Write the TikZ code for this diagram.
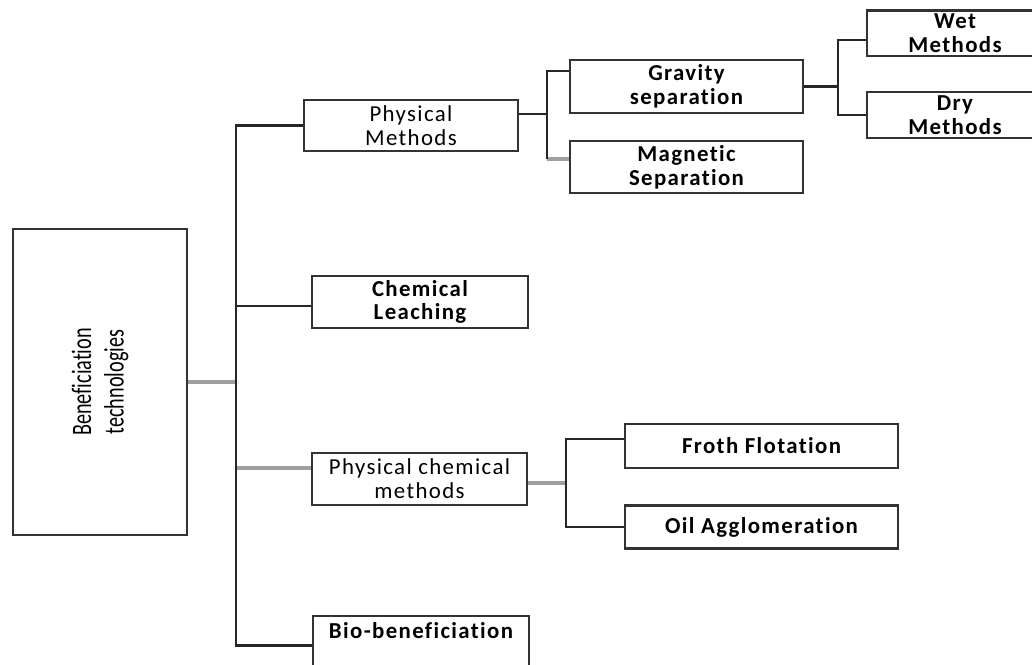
\documentclass[tikz,border=0pt]{standalone}
\usepackage{fontspec}
\setmainfont{Carlito}
\newfontfamily\boxfont[LetterSpace=6,Ligatures=NoCommon]{Carlito}
\newfontfamily\condfont[FakeStretch=0.72,Ligatures=NoCommon]{Carlito}
\usetikzlibrary{positioning,calc}

\begin{document}
\begin{tikzpicture}[x=0.02cm, y=-0.02cm,
    box/.style={draw=black!80, line width=1.3pt, align=center, inner sep=2pt,
        font=\boxfont\fontsize{13}{13.5}\selectfont},
    boldbox/.style={box, font=\boxfont\bfseries\fontsize{13}{13.5}\selectfont},
    link/.style={black!85, line width=1.3pt},
    greylink/.style={gray!75, line width=1.8pt}]
    \useasboundingbox (0,0) rectangle (1032,665);

    % Root
    \node[box, minimum width=3.48cm, minimum height=6.12cm] (root) at (100,382) {};
    \node[rotate=90, align=center, font=\condfont\fontsize{16}{18.5}\selectfont] (rootlabel) at (100,382) {Beneficiation\\technologies};

    % First level
    \node[box, minimum width=4.28cm, minimum height=1.02cm] (phys) at (411,125.5) {Physical\\Methods};
    \node[boldbox, minimum width=4.32cm, minimum height=1.04cm] (chem) at (420,302) {Chemical\\Leaching};
    \node[box, minimum width=4.3cm, minimum height=1.04cm] (physchem) at (419.5,479) {Physical chemical\\methods};
    \node[boldbox, anchor=north, minimum width=4.32cm, minimum height=1.04cm] (bio) at (421,615) {Bio-beneficiation\\\mbox{}};

    % Second level
    \node[boldbox, minimum width=4.66cm, minimum height=1.06cm] (grav) at (686.5,86.5) {Gravity\\separation};
    \node[boldbox, minimum width=4.66cm, minimum height=1.04cm] (magn) at (686.5,167) {Magnetic\\Separation};
    \node[boldbox, minimum width=5.46cm, minimum height=0.88cm] (froth) at (761.5,446) {Froth Flotation};
    \node[boldbox, minimum width=5.46cm, minimum height=0.86cm] (oil) at (761.5,527) {Oil Agglomeration};

    % Third level
    \node[boldbox, minimum width=3.52cm, minimum height=0.86cm] (wet) at (955,33.5) {Wet\\Methods};
    \node[boldbox, minimum width=3.52cm, minimum height=0.88cm] (dry) at (955,115) {Dry\\Methods};

    % Trunk
    \coordinate (trunk) at (236,382);
    \draw[greylink] (root.east) -- (trunk);
    \draw[greylink] ($(physchem.west)+(0,-11)$) -- ($(physchem.west -| trunk)+(0,-11)$);
    \draw[link] ($(chem.west)+(0,4)$) -- ($(chem.west -| trunk)+(0,4)$);
    \draw[link] (phys.west) -| (trunk) |- ($(bio.west)+(0,3.5)$);

    % Physical methods fork
    \coordinate (physfork) at (547,114);
    \coordinate (magnin) at ($(magn.west)+(0,-8)$);
    \draw[greylink] (magnin) -- (magnin -| physfork);
    \draw[link] ($(phys.east)+(0,-11.5)$) -- (physfork);
    \draw[link] ($(grav.west)+(0,-15.5)$) -| (magnin -| physfork);

    % Gravity fork
    \coordinate (gravfork) at (838,86.5);
    \draw[link] (grav.east) -- (gravfork);
    \draw[link] ($(wet.west)+(0,6.5)$) -| (dry.west -| gravfork) -- (dry.west);

    % Physical chemical fork
    \coordinate (pcfork) at (566,483);
    \draw[greylink] ($(physchem.east)+(0,4)$) -- (pcfork);
    \draw[link] ($(froth.west)+(0,-7)$) -| (oil.west -| pcfork) -- (oil.west);
\end{tikzpicture}
\end{document}
